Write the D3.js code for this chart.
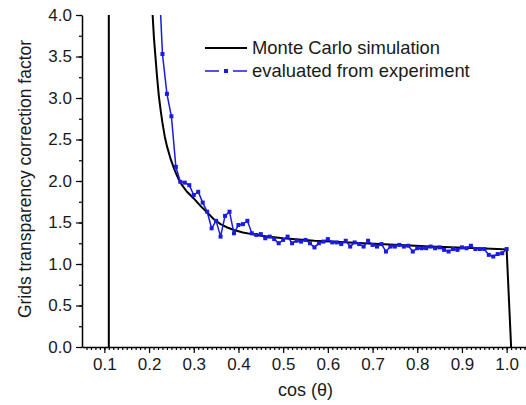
<!DOCTYPE html>
<html>
<head>
<meta charset="utf-8">
<script src="https://cdn.jsdelivr.net/npm/d3@7"></script>
<style>
  html, body { margin: 0; padding: 0; background: #fff; }
  svg { display: block; font-family: "Liberation Sans", Arial, sans-serif; }
</style>
</head>
<body>
<svg id="chart" width="526" height="405"></svg>
<script>
// Monte Carlo simulation curve (cos θ, factor)
const mcX = [0.11, 0.11, 0.19, 0.205, 0.208, 0.211, 0.215, 0.218, 0.222, 0.226, 0.230, 0.235, 0.240, 0.248, 0.256, 0.262, 0.268, 0.275, 0.285, 0.300, 0.315, 0.330, 0.345, 0.360, 0.375, 0.390, 0.410, 0.430, 0.450, 0.475, 0.500, 0.570, 0.680, 0.830, 0.980, 1.000, 1.010];
const mcY = [0, 20, 9, 4.3, 4.0, 3.72, 3.45, 3.25, 3.02, 2.85, 2.70, 2.54, 2.42, 2.27, 2.15, 2.07, 2.0, 1.94, 1.87, 1.79, 1.70, 1.62, 1.54, 1.48, 1.44, 1.41, 1.38, 1.36, 1.34, 1.325, 1.31, 1.28, 1.25, 1.21, 1.18, 1.175, 0];

// Factor evaluated from experiment
const expX = [0.22, 0.23, 0.24, 0.25, 0.26, 0.27, 0.28, 0.29, 0.30, 0.31,
              0.32, 0.33, 0.34, 0.35, 0.36, 0.37, 0.38, 0.39, 0.40, 0.41,
              0.42, 0.43, 0.44, 0.45, 0.46, 0.47, 0.48, 0.49, 0.50, 0.51,
              0.52, 0.53, 0.54, 0.55, 0.56, 0.57, 0.58, 0.59, 0.60, 0.61,
              0.62, 0.63, 0.64, 0.65, 0.66, 0.67, 0.68, 0.69, 0.70, 0.71,
              0.72, 0.73, 0.74, 0.75, 0.76, 0.77, 0.78, 0.79, 0.80, 0.81,
              0.82, 0.83, 0.84, 0.85, 0.86, 0.87, 0.88, 0.89, 0.90, 0.91,
              0.92, 0.93, 0.94, 0.95, 0.96, 0.97, 0.98, 0.99, 1.00];
const expY = [4.7, 3.53, 3.05, 2.78, 2.17, 1.99, 1.98, 1.95, 1.83, 1.87,
              1.74, 1.63, 1.43, 1.52, 1.33, 1.58, 1.63, 1.37, 1.47, 1.48,
              1.52, 1.37, 1.35, 1.36, 1.31, 1.33, 1.30, 1.25, 1.29, 1.33,
              1.25, 1.28, 1.27, 1.29, 1.25, 1.20, 1.25, 1.27, 1.30, 1.26,
              1.26, 1.24, 1.28, 1.21, 1.26, 1.24, 1.21, 1.28, 1.23, 1.21,
              1.24, 1.15, 1.21, 1.21, 1.23, 1.21, 1.22, 1.15, 1.19, 1.19,
              1.19, 1.21, 1.19, 1.20, 1.17, 1.15, 1.18, 1.17, 1.20, 1.19,
              1.22, 1.18, 1.18, 1.18, 1.11, 1.09, 1.12, 1.13, 1.18];

const xTicks = [0.1, 0.2, 0.3, 0.4, 0.5, 0.6, 0.7, 0.8, 0.9, 1.0];
const yTicks = [0.0, 0.5, 1.0, 1.5, 2.0, 2.5, 3.0, 3.5, 4.0];
const seriesNames = ["Monte Carlo simulation", "evaluated from experiment"];

const blue = "#1a1ae0";
const ink = "#1a1a1a";
const mLeft = 82, mRight = 529, mTop = 15, mBottom = 347;

const svg = d3.select("#chart");
const x = d3.scaleLinear().domain([0.05, 1.05]).range([mLeft, mRight]);
const y = d3.scaleLinear().domain([0, 4]).range([mBottom, mTop]);

svg.append("defs").append("clipPath").attr("id", "plot-clip")
  .append("rect").attr("x", mLeft).attr("y", mTop)
  .attr("width", mRight - mLeft).attr("height", mBottom - mTop);

const plot = svg.append("g").attr("clip-path", "url(#plot-clip)");

const mc = mcX.map((v, i) => [v, mcY[i]]);
const ex = expX.map((v, i) => [v, expY[i]]);
const line = d3.line().x(d => x(d[0])).y(d => y(d[1]));

plot.append("path").datum(mc).attr("d", line)
  .attr("fill", "none").attr("stroke", "#000").attr("stroke-width", 2)
  .attr("stroke-linejoin", "round");

plot.append("path").datum(ex).attr("d", line)
  .attr("fill", "none").attr("stroke", blue).attr("stroke-width", 1.5);

plot.selectAll("rect.pt").data(ex).join("rect").attr("class", "pt")
  .attr("x", d => x(d[0]) - 2).attr("y", d => y(d[1]) - 2)
  .attr("width", 4).attr("height", 4).attr("fill", blue);

// Axes with outward major and minor ticks
const xMinor = d3.range(6, 106).map(i => i / 100);
const yMinor = d3.range(0, 17).map(i => i / 4);

const xAxisG = svg.append("g").attr("transform", `translate(0,${mBottom})`);
xAxisG.append("g").call(d3.axisBottom(x).tickValues(xMinor).tickSize(3).tickFormat(""))
  .call(g => g.select(".domain").remove());
xAxisG.append("g").call(d3.axisBottom(x).tickValues(xTicks).tickSize(6).tickSizeOuter(0)
  .tickFormat(d3.format(".1f")).tickPadding(5));

const yAxisG = svg.append("g").attr("transform", `translate(${mLeft},0)`);
yAxisG.append("g").call(d3.axisLeft(y).tickValues(yMinor).tickSize(3).tickFormat(""))
  .call(g => g.select(".domain").remove());
yAxisG.append("g").call(d3.axisLeft(y).tickValues(yTicks).tickSize(6).tickSizeOuter(0)
  .tickFormat(d3.format(".1f")).tickPadding(4));

svg.selectAll(".tick line").attr("stroke", "#000").attr("stroke-width", 1.2);
svg.selectAll(".domain").attr("stroke", "#000").attr("stroke-width", 1.5);
svg.selectAll(".tick text").attr("font-size", 17).attr("fill", ink)
  .attr("font-family", "Liberation Sans, Arial, sans-serif");

// Axis titles
svg.append("text").attr("x", (mLeft + mRight) / 2).attr("y", 396)
  .attr("text-anchor", "middle").attr("font-size", 18).attr("fill", ink)
  .text("cos (θ)");
svg.append("text")
  .attr("transform", `translate(31,${(mTop + mBottom) / 2 - 2}) rotate(-90)`)
  .attr("text-anchor", "middle").attr("font-size", 17.5).attr("fill", ink)
  .text("Grids transparency correction factor");

// Legend
const lg = svg.append("g");
lg.append("line").attr("x1", 205).attr("x2", 247).attr("y1", 48).attr("y2", 48)
  .attr("stroke", "#000").attr("stroke-width", 2);
lg.append("text").attr("x", 252).attr("y", 54).attr("font-size", 18.4).attr("fill", ink)
  .text(seriesNames[0]);
lg.append("line").attr("x1", 205).attr("x2", 219).attr("y1", 71).attr("y2", 71)
  .attr("stroke", blue).attr("stroke-width", 1.5);
lg.append("line").attr("x1", 233).attr("x2", 247).attr("y1", 71).attr("y2", 71)
  .attr("stroke", blue).attr("stroke-width", 1.5);
lg.append("rect").attr("x", 224).attr("y", 69).attr("width", 4).attr("height", 4).attr("fill", blue);
lg.append("text").attr("x", 252).attr("y", 77).attr("font-size", 18.4).attr("fill", ink)
  .text(seriesNames[1]);
</script>
</body>
</html>
